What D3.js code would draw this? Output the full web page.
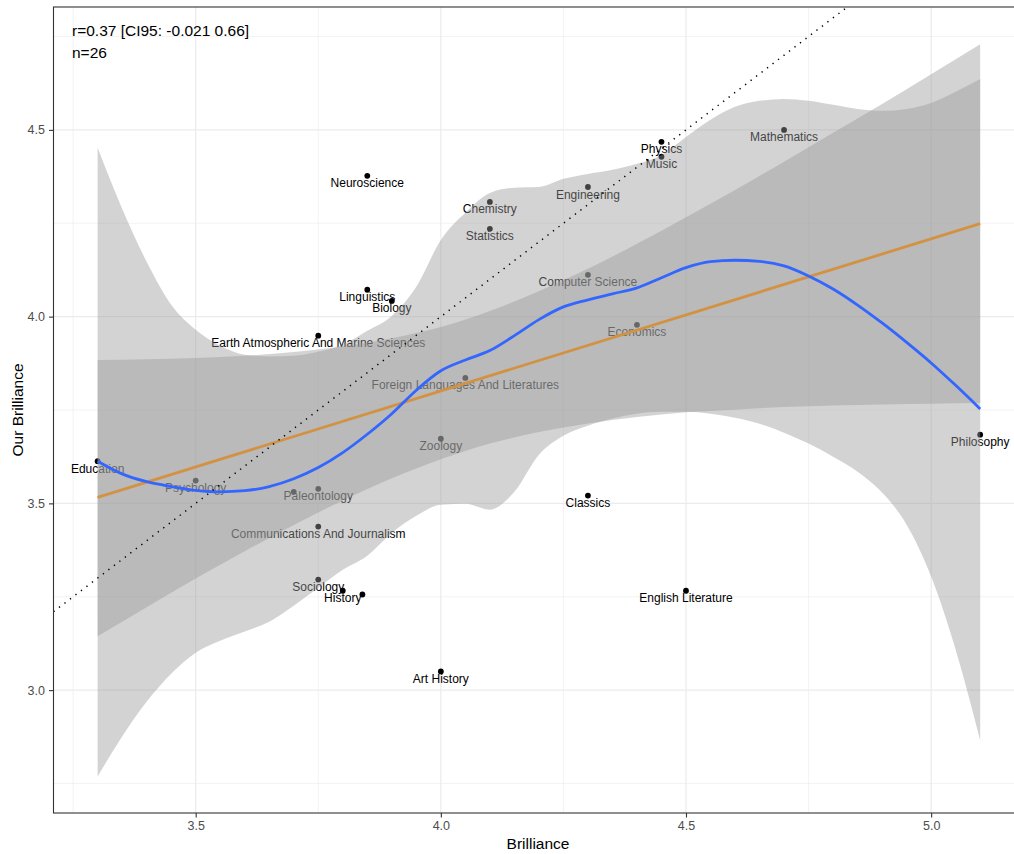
<!DOCTYPE html>
<html>
<head>
<meta charset="utf-8">
<script src="https://cdn.jsdelivr.net/npm/d3@7"></script>
<style>
  body { margin: 0; background: #fff; }
  svg { display: block; font-family: "Liberation Sans", Arial, Helvetica, sans-serif; }
</style>
</head>
<body>
<script>
// ---------------- data ----------------
const fields = ['Education', 'Psychology', '', 'Paleontology', 'Communications And Journalism',
    'Sociology', 'History', '', 'Art History', 'Zoology', 'Foreign Languages And Literatures',
    'Earth Atmospheric And Marine Sciences', 'Linguistics', 'Biology', 'Neuroscience',
    'Chemistry', 'Statistics', 'Engineering', 'Computer Science', 'Economics', 'Physics',
    'Music', 'Mathematics', 'Classics', 'English Literature', 'Philosophy']
const brilliance = [3.30, 3.50, 3.70, 3.75, 3.75, 3.75, 3.80, 3.84, 4.00, 4.00, 4.05,
    3.75, 3.85, 3.90, 3.85, 4.10, 4.10, 4.30, 4.30, 4.40, 4.45, 4.45, 4.70, 4.30, 4.50, 5.10]
const ourBrilliance = [3.613, 3.561, 3.531, 3.539, 3.438, 3.296, 3.266, 3.256, 3.050, 3.673,
    3.836, 3.949, 4.072, 4.042, 4.377, 4.307, 4.235, 4.347, 4.112, 3.978, 4.468, 4.428,
    4.500, 3.521, 3.266, 3.684]

// linear fit + confidence band
const lmX = [3.3, 3.4, 3.5, 3.6, 3.7, 3.8, 3.9, 4.0, 4.1, 4.2, 4.3, 4.4, 4.5, 4.6, 4.7, 4.8, 4.9, 5.0, 5.1]
const lmUpper = [3.884, 3.886, 3.889, 3.895, 3.905, 3.920, 3.942, 3.972, 4.015, 4.068, 4.128,
    4.195, 4.266, 4.339, 4.415, 4.492, 4.569, 4.649, 4.729]
const lmLower = [3.144, 3.222, 3.299, 3.372, 3.442, 3.508, 3.567, 3.618, 3.660, 3.691, 3.714,
    3.731, 3.744, 3.751, 3.758, 3.762, 3.765, 3.767, 3.769]
const lmEnds = [[3.3, 3.516], [5.1, 4.249]]

// loess fit + confidence band
const loX = [3.30, 3.35, 3.40, 3.45, 3.50, 3.55, 3.60, 3.65, 3.70, 3.75, 3.80, 3.85, 3.90,
    3.95, 4.00, 4.05, 4.10, 4.15, 4.20, 4.25, 4.30, 4.35, 4.40, 4.45, 4.50, 4.55, 4.60, 4.65,
    4.70, 4.75, 4.80, 4.85, 4.90, 4.95, 5.00, 5.05, 5.10]
const loFit = [3.613, 3.579, 3.558, 3.545, 3.535, 3.531, 3.534, 3.545, 3.566, 3.596, 3.636,
    3.685, 3.740, 3.803, 3.855, 3.884, 3.909, 3.949, 3.992, 4.026, 4.045, 4.061, 4.077, 4.104,
    4.131, 4.147, 4.151, 4.148, 4.136, 4.109, 4.074, 4.031, 3.983, 3.931, 3.876, 3.816, 3.753]
const loUpper = [4.452, 4.289, 4.147, 4.032, 3.965, 3.922, 3.898, 3.893, 3.895, 3.906, 3.925,
    3.962, 4.002, 4.080, 4.205, 4.278, 4.331, 4.345, 4.347, 4.369, 4.382, 4.393, 4.409, 4.433,
    4.481, 4.527, 4.562, 4.578, 4.583, 4.578, 4.567, 4.556, 4.551, 4.556, 4.572, 4.602, 4.636]
const loLower = [2.769, 2.876, 2.969, 3.044, 3.100, 3.132, 3.157, 3.183, 3.226, 3.274, 3.322,
    3.360, 3.421, 3.467, 3.496, 3.499, 3.483, 3.531, 3.630, 3.681, 3.708, 3.727, 3.740, 3.745,
    3.745, 3.740, 3.729, 3.713, 3.689, 3.660, 3.625, 3.585, 3.529, 3.443, 3.304, 3.108, 2.865]

const xTicks = [3.5, 4.0, 4.5, 5.0]
const xMinor = [3.25, 3.75, 4.25, 4.75]
const yTicks = [3.0, 3.5, 4.0, 4.5]
const yMinor = [2.75, 3.25, 3.75, 4.25, 4.75]
const statLines = ['r=0.37 [CI95: -0.021 0.66]', 'n=26']

// ---------------- layout ----------------
const W = 1014, H = 854
const panel = { left: 53.5, top: 7, right: 1024.3, bottom: 813 }

const svg = d3.select('body').append('svg')
    .attr('width', W)
    .attr('height', H)

const x = d3.scaleLinear().domain([3.21, 5.19]).range([panel.left, panel.right])
const y = d3.scaleLinear().domain([2.671, 4.829]).range([panel.bottom, panel.top])

svg.append('defs').append('clipPath').attr('id', 'clip')
    .append('rect')
    .attr('x', panel.left).attr('y', panel.top)
    .attr('width', panel.right - panel.left).attr('height', panel.bottom - panel.top)

// grid
const grid = svg.append('g')
grid.selectAll('.vmin').data(xMinor).enter().append('line')
    .attr('x1', d => x(d)).attr('x2', d => x(d))
    .attr('y1', panel.top).attr('y2', panel.bottom)
    .attr('stroke', '#ebebeb').attr('stroke-width', 0.6)
grid.selectAll('.hmin').data(yMinor).enter().append('line')
    .attr('y1', d => y(d)).attr('y2', d => y(d))
    .attr('x1', panel.left).attr('x2', panel.right)
    .attr('stroke', '#ebebeb').attr('stroke-width', 0.6)
grid.selectAll('.vmaj').data(xTicks).enter().append('line')
    .attr('x1', d => x(d)).attr('x2', d => x(d))
    .attr('y1', panel.top).attr('y2', panel.bottom)
    .attr('stroke', '#ebebeb').attr('stroke-width', 1.2)
grid.selectAll('.hmaj').data(yTicks).enter().append('line')
    .attr('y1', d => y(d)).attr('y2', d => y(d))
    .attr('x1', panel.left).attr('x2', panel.right)
    .attr('stroke', '#ebebeb').attr('stroke-width', 1.2)

const plot = svg.append('g').attr('clip-path', 'url(#clip)')

// points + labels (drawn first, ribbons go over them)
const pts = fields.map((f, i) => ({ name: f, bx: brilliance[i], by: ourBrilliance[i] }))
plot.selectAll('circle').data(pts).enter().append('circle')
    .attr('cx', d => x(d.bx))
    .attr('cy', d => y(d.by))
    .attr('r', 2.9)
    .attr('fill', '#000')
plot.selectAll('text.lab').data(pts.filter(d => d.name)).enter().append('text')
    .attr('class', 'lab')
    .attr('x', d => x(d.bx))
    .attr('y', d => y(d.by) + 7.5)
    .attr('text-anchor', 'middle')
    .attr('dominant-baseline', 'central')
    .attr('font-size', '12px')
    .attr('fill', '#000')
    .text(d => d.name)

// lm ribbon + line
const lmBand = lmX.map((v, i) => ({ v: v, lo: lmLower[i], hi: lmUpper[i] }))
plot.append('path')
    .datum(lmBand)
    .attr('d', d3.area().curve(d3.curveMonotoneX)
        .x(d => x(d.v)).y0(d => y(d.lo)).y1(d => y(d.hi)))
    .attr('fill', '#999999')
    .attr('fill-opacity', 0.43)
plot.append('path')
    .datum(lmEnds)
    .attr('d', d3.line().x(d => x(d[0])).y(d => y(d[1])))
    .attr('fill', 'none')
    .attr('stroke', '#ff8c00')
    .attr('stroke-width', 2.8)

// loess ribbon + line
const loBand = loX.map((v, i) => ({ v: v, lo: loLower[i], hi: loUpper[i], fit: loFit[i] }))
plot.append('path')
    .datum(loBand)
    .attr('d', d3.area().curve(d3.curveMonotoneX)
        .x(d => x(d.v)).y0(d => y(d.lo)).y1(d => y(d.hi)))
    .attr('fill', '#999999')
    .attr('fill-opacity', 0.43)
plot.append('path')
    .datum(loBand)
    .attr('d', d3.line().curve(d3.curveMonotoneX).x(d => x(d.v)).y(d => y(d.fit)))
    .attr('fill', 'none')
    .attr('stroke', '#3366ff')
    .attr('stroke-width', 2.8)

// identity line (dotted)
const idLine = [x.domain()[0], y.domain()[1]]
plot.append('path')
    .datum(idLine)
    .attr('d', d3.line().x(d => x(d)).y(d => y(d)))
    .attr('fill', 'none')
    .attr('stroke', '#000')
    .attr('stroke-width', 1.5)
    .attr('stroke-dasharray', '1.3,5.6')

// panel border
svg.append('rect')
    .attr('x', panel.left).attr('y', panel.top)
    .attr('width', panel.right - panel.left).attr('height', panel.bottom - panel.top)
    .attr('fill', 'none')
    .attr('stroke', '#333333')
    .attr('stroke-width', 1.1)

// axes
const xAxis = svg.append('g')
    .attr('transform', 'translate(0,' + panel.bottom + ')')
    .call(d3.axisBottom(x).tickValues(xTicks).tickFormat(d3.format('.1f')).tickSize(4.5).tickPadding(4))
const yAxis = svg.append('g')
    .attr('transform', 'translate(' + panel.left + ',0)')
    .call(d3.axisLeft(y).tickValues(yTicks).tickFormat(d3.format('.1f')).tickSize(4.5).tickPadding(4))
;[xAxis, yAxis].forEach(a => {
    a.select('.domain').remove()
    a.selectAll('.tick line').attr('stroke', '#333333').attr('stroke-width', 1.1)
    a.selectAll('.tick text')
        .attr('fill', '#4d4d4d')
        .attr('font-size', '12.5px')
        .attr('font-family', '"Liberation Sans", Arial, Helvetica, sans-serif')
})

svg.append('text')
    .attr('x', 538)
    .attr('y', 843)
    .attr('text-anchor', 'middle')
    .attr('dominant-baseline', 'central')
    .attr('font-size', '15.5px')
    .attr('fill', '#000')
    .text('Brilliance')

svg.append('text')
    .attr('transform', 'translate(17,' + ((panel.top + panel.bottom) / 2) + ') rotate(-90)')
    .attr('text-anchor', 'middle')
    .attr('dominant-baseline', 'central')
    .attr('font-size', '15.5px')
    .attr('fill', '#000')
    .text('Our Brilliance')

// stats annotation
svg.selectAll('text.stat').data(statLines).enter().append('text')
    .attr('class', 'stat')
    .attr('x', 72)
    .attr('y', (d, i) => 30.5 + i * 22)
    .attr('dominant-baseline', 'central')
    .attr('font-size', '15.5px')
    .attr('fill', '#000')
    .text(d => d)
</script>
</body>
</html>
